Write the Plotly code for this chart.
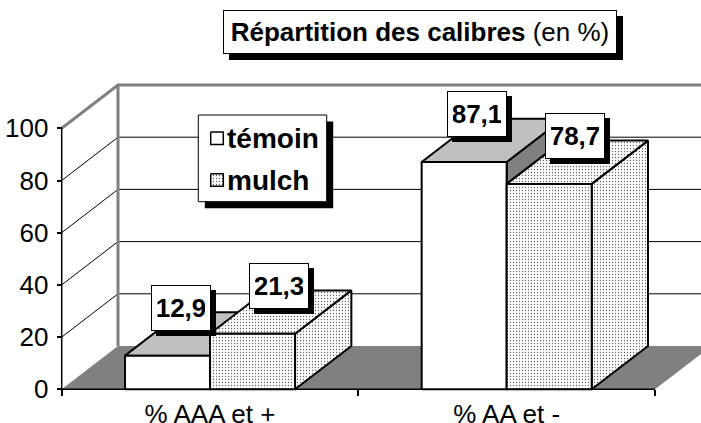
import plotly.graph_objects as go

# ---------------- data ----------------
categories = ["% AAA et +", "% AA et -"]
series_names = ["témoin", "mulch"]
temoin = [12.9, 87.1]
mulch = [21.3, 78.7]
value_labels_temoin = ["12,9", "87,1"]
value_labels_mulch = ["21,3", "78,7"]
y_ticks = [0, 20, 40, 60, 80, 100]

# ---------------- geometry / style ----------------
W, H = 701, 423
ML, MR, MT, MB = 50, 0, 60, 20
PW, PH = W - ML - MR, H - MT - MB
AX_X = 61.7          # pixel x of front value axis
AX_Y = 389.3         # pixel y of value 0
CAT_PX = 296.65      # pixels per category
VAL_PX = 2.61        # pixels per value unit
DEPTH_PX = (56.3, -43.3)
BAR_W = 0.2866       # in category units

def u_of(px):
    return (px - AX_X) / CAT_PX - 0.5

def v_of(py):
    return (AX_Y - py) / VAL_PX

def paper_x(px):
    return (px - ML) / PW

def paper_y(py):
    return (H - MB - py) / PH

du = DEPTH_PX[0] / CAT_PX
dv = -DEPTH_PX[1] / VAL_PX
u_left = -0.5
u_right = len(categories) - 0.5
vmax = 100

FONT = "Liberation Sans, Arial, sans-serif"
GRAY_FLOOR = "#808080"
GRAY_TOP = "#c0c0c0"
GRAY_SIDE = "#808080"
DOTS = dict(shape=".", bgcolor="white", fgcolor="#606060", size=3, solidity=0.15)

fig = go.Figure()

def poly(xs, ys, fill=None, pattern=None, lw=0, lc="black"):
    kw = dict(x=list(xs) + [xs[0]], y=list(ys) + [ys[0]], mode="lines",
              fill="toself", line=dict(width=lw, color=lc),
              hoverinfo="skip", showlegend=False)
    if pattern is not None:
        kw["fillpattern"] = pattern
        kw["fillcolor"] = "white"
    else:
        kw["fillcolor"] = fill
    fig.add_trace(go.Scatter(**kw))

def line(xs, ys, w=1, c="black"):
    fig.add_trace(go.Scatter(x=xs, y=ys, mode="lines", line=dict(width=w, color=c),
                             hoverinfo="skip", showlegend=False))

# floor
poly([u_left, u_right, u_right + du, u_left + du], [0, 0, dv, dv], fill=GRAY_FLOOR)

# gridlines on side wall and back wall
for t in y_ticks[1:-1]:
    line([u_left, u_left + du, u_right + du + 0.5], [t, t + dv, t + dv], w=1, c="black")

# wall edges (gray)
line([u_left + du, u_left + du], [dv, vmax + dv], w=3, c="#808080")
line([u_left, u_left + du, u_right + du + 0.5], [vmax, vmax + dv, vmax + dv], w=3, c="#808080")

# front axes lines
line([u_left, u_left], [0, vmax], w=1.5)
line([u_left, u_right], [0, 0], w=1.5)

# bars
for i in range(len(categories)):
    for s, vals in enumerate([temoin, mulch]):
        v = vals[i]
        u0 = i - BAR_W + s * BAR_W
        u1 = u0 + BAR_W
        if s == 0:
            side = dict(fill=GRAY_SIDE)
            top = dict(fill=GRAY_TOP)
            front = dict(fill="white")
        else:
            side = dict(pattern=DOTS)
            top = dict(pattern=DOTS)
            front = dict(pattern=DOTS)
        poly([u1, u1 + du, u1 + du, u1], [0, dv, v + dv, v], lw=2, **side)
        poly([u0, u1, u1 + du, u0 + du], [v, v, v + dv, v + dv], lw=2, **top)
        poly([u0, u1, u1, u0], [0, 0, v, v], lw=2, **front)

# legend (drawn box)
LG = dict(x0=198.3, x1=326.7, y0=115, y1=201.7, sh=6.5)
poly([u_of(LG["x0"] + LG["sh"]), u_of(LG["x1"] + LG["sh"]), u_of(LG["x1"] + LG["sh"]), u_of(LG["x0"] + LG["sh"])],
     [v_of(LG["y0"] + LG["sh"]), v_of(LG["y0"] + LG["sh"]), v_of(LG["y1"] + LG["sh"]), v_of(LG["y1"] + LG["sh"])],
     fill="black")
poly([u_of(LG["x0"]), u_of(LG["x1"]), u_of(LG["x1"]), u_of(LG["x0"])],
     [v_of(LG["y0"]), v_of(LG["y0"]), v_of(LG["y1"]), v_of(LG["y1"])],
     fill="white", lw=1, lc="black")
legend_rows = [138.3, 180.0]
for k, name in enumerate(series_names):
    cy = legend_rows[k]
    sx0, sx1 = 210.7, 223.3
    xs = [u_of(sx0), u_of(sx1), u_of(sx1), u_of(sx0)]
    ys = [v_of(cy - 6.3), v_of(cy - 6.3), v_of(cy + 6.3), v_of(cy + 6.3)]
    if k == 0:
        poly(xs, ys, fill="white", lw=1.5)
    else:
        poly(xs, ys, pattern=DOTS, lw=1.5)
    fig.add_annotation(text="<b>%s</b>" % name, xref="paper", yref="paper",
                       x=paper_x(224.5), y=paper_y(cy), xanchor="left", yanchor="middle",
                       showarrow=False, font=dict(family=FONT, size=28, color="black"))

# data labels
label_sets = [(temoin, value_labels_temoin, -15), (mulch, value_labels_mulch, -2)]
for s, (vals, texts, xs_) in enumerate(label_sets):
    for i, (v, t) in enumerate(zip(vals, texts)):
        uc = i - BAR_W + s * BAR_W + BAR_W / 2 + du / 2
        vc = v + dv / 2
        for shadow in (True, False):
            fig.add_annotation(
                x=uc, y=vc, xref="x", yref="y", text="<b>%s</b>" % t, showarrow=False,
                xanchor="center", yanchor="bottom",
                xshift=xs_ + (5 if shadow else 0), yshift=3 - (5 if shadow else 0),
                width=48, height=34, borderpad=5, borderwidth=1,
                bordercolor="black", bgcolor="black" if shadow else "white",
                font=dict(family=FONT, size=26, color="black"))

# title
for shadow in (True, False):
    fig.add_annotation(
        text="<b>Répartition des calibres</b> (en %)", xref="paper", yref="paper",
        x=paper_x(420), y=paper_y(32), xanchor="center", yanchor="middle",
        xshift=6 if shadow else 0, yshift=-6 if shadow else 0,
        width=382, height=32, borderpad=5, borderwidth=1, bordercolor="black",
        bgcolor="black" if shadow else "white", showarrow=False,
        font=dict(family=FONT, size=26, color="black"))

fig.update_layout(
    template="none",
    width=W, height=H, margin=dict(l=ML, r=MR, t=MT, b=MB, autoexpand=False),
    paper_bgcolor="white", plot_bgcolor="white", showlegend=False,
    xaxis=dict(range=[u_of(ML), u_of(W - MR)], anchor="free", position=paper_y(AX_Y),
               automargin=False,
               tickmode="array", tickvals=list(range(len(categories))), ticktext=categories,
               ticks="", showgrid=False, zeroline=False, showline=False,
               tickfont=dict(family=FONT, size=26, color="black"), ticklabelstandoff=7,
               minor=dict(tickmode="array", tickvals=[-0.5, 0.5, 1.5], ticks="outside",
                          ticklen=6, tickwidth=1.5, tickcolor="black", showgrid=False)),
    yaxis=dict(range=[v_of(H - MB), v_of(MT)], anchor="free", position=paper_x(AX_X),
               automargin=False,
               tickmode="array", tickvals=y_ticks, ticks="outside", ticklen=5,
               tickwidth=1.5, tickcolor="black", showgrid=False, zeroline=False,
               showline=False, ticklabelstandoff=3,
               tickfont=dict(family=FONT, size=26, color="black")),
)

fig.write_html("out.html", config={"displayModeBar": False},
               post_script="document.body.style.margin='0';document.body.style.overflow='hidden';")
